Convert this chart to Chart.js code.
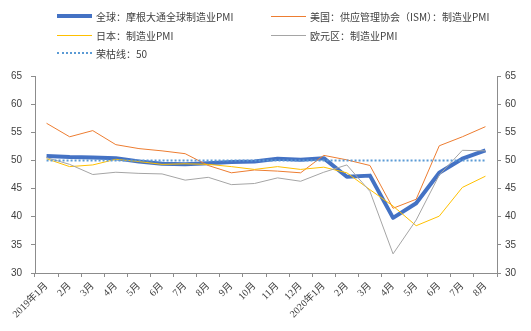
<!DOCTYPE html>
<html>
<head>
<meta charset="utf-8">
<script src="https://cdn.jsdelivr.net/npm/chart.js@4.4.1/dist/chart.umd.min.js"></script>
<style>
  html, body { margin: 0; padding: 0; background: #fff; }
  #wrap { position: relative; width: 531px; height: 331px; }
  #legend { position: absolute; left: 0; top: 0; width: 531px; height: 64px;
            font: 10px "Noto Sans CJK SC", sans-serif; color: #404040; }
  .item { position: absolute; height: 14px; line-height: 14px; white-space: nowrap; }
  .swatch { position: absolute; left: 0; top: 6px; width: 35px; }
  .item span { position: absolute; left: 39px; top: 0; }
</style>
</head>
<body>
<div id="wrap">
  <canvas id="chart" width="531" height="331"></canvas>
  <div id="legend"></div>
</div>
<script>
// months, 2019-01 .. 2020-08
const labels = ['2019年1月', '2月', '3月', '4月', '5月', '6月', '7月', '8月', '9月', '10月', '11月', '12月',
    '2020年1月', '2月', '3月', '4月', '5月', '6月', '7月', '8月'];

const globalPmi = [50.8, 50.6, 50.5, 50.4, 49.8, 49.4, 49.3, 49.5, 49.7, 49.8, 50.3, 50.1,
    50.4, 47.1, 47.3, 39.8, 42.4, 47.8, 50.3, 51.8];
const usIsm = [56.6, 54.2, 55.3, 52.8, 52.1, 51.7, 51.2, 49.1, 47.8, 48.3, 48.1, 47.8,
    50.9, 50.1, 49.1, 41.5, 43.1, 52.6, 54.2, 56.0];
const japanPmi = [50.3, 48.9, 49.2, 50.2, 49.8, 49.3, 49.4, 49.3, 48.9, 48.4, 48.9, 48.4,
    48.8, 47.8, 44.8, 41.9, 38.4, 40.1, 45.2, 47.2];
const euroPmi = [50.5, 49.3, 47.5, 47.9, 47.7, 47.6, 46.5, 47.0, 45.7, 45.9, 46.9, 46.3,
    47.9, 49.2, 44.5, 33.4, 39.4, 47.4, 51.8, 51.7];
const boomBust = labels.map(function() { return 50; });

const yTicks = [30, 35, 40, 45, 50, 55, 60, 65];

const axisColor = '#8c8c8c';
const textColor = '#404040';

// Legend (two columns like the original)
const legendItems = [
    { text: '全球：摩根大通全球制造业PMI', x: 57, y: 10, border: '4px solid #4472C4', top: 4 },
    { text: '美国：供应管理协会（ISM）：制造业PMI', x: 271, y: 10, border: '1px solid #ED7D31', top: 6 },
    { text: '日本：制造业PMI', x: 57, y: 29, border: '1px solid #FFC000', top: 6 },
    { text: '欧元区：制造业PMI', x: 271, y: 29, border: '1px solid #A5A5A5', top: 6 },
    { text: '荣枯线：50', x: 57, y: 47, border: '2px dotted #5B9BD5', top: 5 }
];
const legend = document.getElementById('legend');
legendItems.forEach(function(it) {
    const div = document.createElement('div');
    div.className = 'item';
    div.style.left = it.x + 'px';
    div.style.top = it.y + 'px';
    div.innerHTML = '<div class="swatch" style="border-top:' + it.border + ';top:' + it.top + 'px"></div><span>' + it.text + '</span>';
    legend.appendChild(div);
});

const tickFont = { family: '"Liberation Sans", "Noto Sans CJK SC", sans-serif', size: 10 };

new Chart(document.getElementById('chart'), {
    type: 'line',
    data: {
        labels: labels,
        datasets: [
            { label: legendItems[0].text, data: globalPmi, borderColor: '#4472C4', borderWidth: 4, order: 4 },
            { label: legendItems[1].text, data: usIsm, borderColor: '#ED7D31', borderWidth: 1, order: 3 },
            { label: legendItems[2].text, data: japanPmi, borderColor: '#FFC000', borderWidth: 1, order: 2 },
            { label: legendItems[3].text, data: euroPmi, borderColor: '#A5A5A5', borderWidth: 1, order: 1 },
            { label: legendItems[4].text, data: boomBust, borderColor: '#5B9BD5', borderWidth: 2, borderDash: [2, 2], borderCapStyle: 'butt', order: 0 }
        ]
    },
    options: {
        responsive: false,
        animation: false,
        events: [],
        layout: { padding: { top: 76, left: 0, right: 0, bottom: 0 } },
        elements: {
            point: { radius: 0 },
            line: { tension: 0, fill: false, borderJoinStyle: 'round' }
        },
        plugins: {
            legend: { display: false },
            tooltip: { enabled: false }
        },
        scales: {
            x: {
                type: 'category',
                offset: true,
                grid: { offset: true, drawOnChartArea: false, drawTicks: true, tickLength: 4, color: axisColor },
                border: { color: axisColor },
                ticks: {
                    color: textColor,
                    font: { family: '"Liberation Serif", "Noto Sans CJK SC", serif', size: 10 },
                    minRotation: 45, maxRotation: 45, autoSkip: false, padding: 3
                },
                afterFit: function(scale) { scale.height = 58; }
            },
            y: {
                position: 'left',
                min: 30, max: 65,
                afterBuildTicks: function(scale) { scale.ticks = yTicks.map(function(v) { return { value: v }; }); },
                grid: { drawOnChartArea: false, drawTicks: true, tickLength: 4, color: axisColor },
                border: { color: axisColor },
                ticks: { color: textColor, font: tickFont, padding: 9 },
                afterFit: function(scale) { scale.width = 35; }
            },
            y2: {
                position: 'right',
                min: 30, max: 65,
                afterBuildTicks: function(scale) { scale.ticks = yTicks.map(function(v) { return { value: v }; }); },
                grid: { drawOnChartArea: false, drawTicks: true, tickLength: 4, color: axisColor },
                border: { color: axisColor },
                ticks: { color: textColor, font: tickFont, padding: 4 },
                afterFit: function(scale) { scale.width = 34; }
            }
        }
    }
});
</script>
</body>
</html>
